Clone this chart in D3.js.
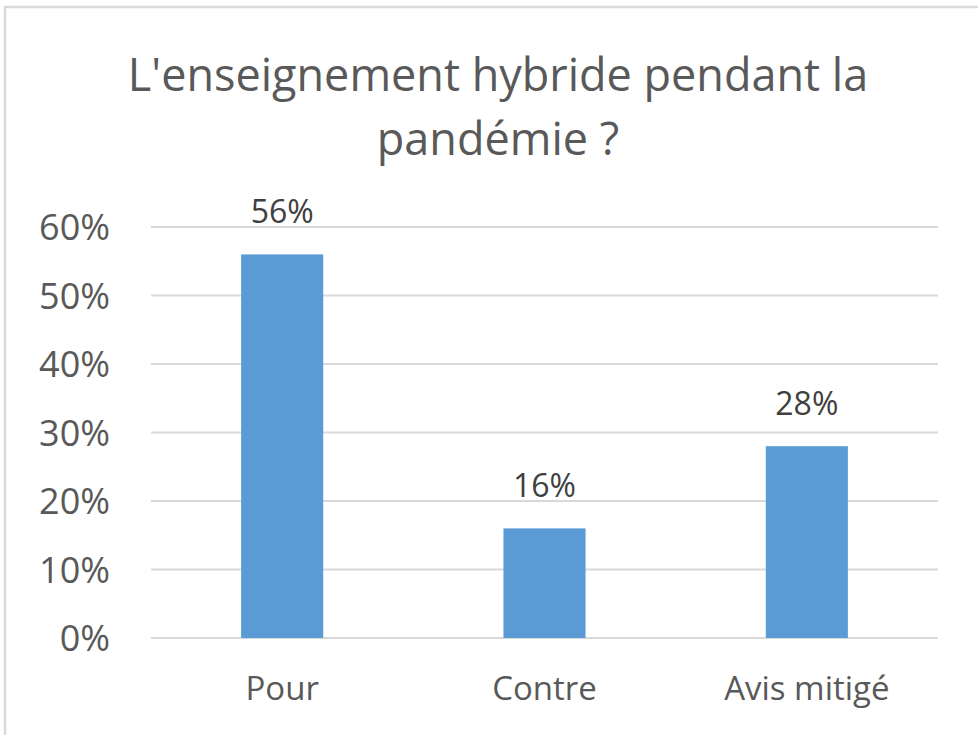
<!DOCTYPE html>
<html>
<head>
<meta charset="utf-8">
<script src="https://cdn.jsdelivr.net/npm/d3@7"></script>
<style>
    body { margin: 0; background: #fff; }
    svg text { font-family: "Open Sans", sans-serif; }
</style>
</head>
<body>
<div id="chart"></div>
<script>
// chart data
var categories = ['Pour', 'Contre', 'Avis mitigé'];
var values = [0.56, 0.16, 0.28];
var yTicks = [0, 0.1, 0.2, 0.3, 0.4, 0.5, 0.6];
var titleLines = ["L'enseignement hybride pendant la", 'pandémie ?'];

var width = 978, height = 735;

var svg = d3.select('#chart').append('svg')
    .attr('width', width)
    .attr('height', height);

// outer chart frame
svg.append('rect')
    .attr('x', 5).attr('y', 7)
    .attr('width', width + 10).attr('height', height - 5)
    .attr('fill', '#fff')
    .attr('stroke', '#d9d9d9')
    .attr('stroke-width', 2.5);

// plot area
var x = d3.scaleBand()
    .domain(categories)
    .range([151, 938])
    .paddingInner(0.687)
    .paddingOuter(0.3435);

var y = d3.scaleLinear()
    .domain([0, 0.6])
    .range([638, 227]);

// horizontal gridlines
svg.selectAll('.grid')
    .data(yTicks)
    .enter().append('line')
    .attr('class', 'grid')
    .attr('x1', 151)
    .attr('x2', 938)
    .attr('y1', (d) => { return y(d); })
    .attr('y2', (d) => { return y(d); })
    .attr('stroke', '#d9d9d9')
    .attr('stroke-width', 2);

// y axis labels, no domain line or ticks
var yAxis = svg.append('g')
    .attr('transform', 'translate(151,0)')
    .call(d3.axisLeft(y).tickValues(yTicks).tickFormat(d3.format('.0%')).tickSize(0).tickPadding(41));
yAxis.select('.domain').remove();
yAxis.selectAll('text')
    .attr('fill', '#595959')
    .style('font-size', '36px')
    .attr('dy', '0.36em');

// bars
svg.selectAll('.bar')
    .data(values)
    .enter().append('rect')
    .attr('class', 'bar')
    .attr('x', (d, i) => { return x(categories[i]); })
    .attr('y', (d) => { return y(d); })
    .attr('width', x.bandwidth())
    .attr('height', (d) => { return y(0) - y(d); })
    .attr('fill', '#5b9bd5');

// value labels
svg.selectAll('.val')
    .data(values)
    .enter().append('text')
    .attr('class', 'val')
    .attr('x', (d, i) => { return x(categories[i]) + x.bandwidth() / 2; })
    .attr('y', (d) => { return y(d) - 31; })
    .attr('text-anchor', 'middle')
    .attr('fill', '#404040')
    .style('font-size', '32px')
    .text(d3.format('.0%'));

// category labels
var xAxis = svg.append('g')
    .attr('transform', 'translate(0,638)')
    .call(d3.axisBottom(x).tickSize(0).tickPadding(0));
xAxis.select('.domain').remove();
xAxis.selectAll('text')
    .attr('fill', '#595959')
    .attr('dy', null)
    .attr('y', 62)
    .style('font-size', '33px');

// title
svg.selectAll('.title')
    .data(titleLines)
    .enter().append('text')
    .attr('class', 'title')
    .attr('x', 498)
    .attr('y', (d, i) => { return 91 + i * 64; })
    .attr('text-anchor', 'middle')
    .attr('fill', '#595959')
    .style('font-size', '45px')
    .text((d) => { return d; });
</script>
</body>
</html>
